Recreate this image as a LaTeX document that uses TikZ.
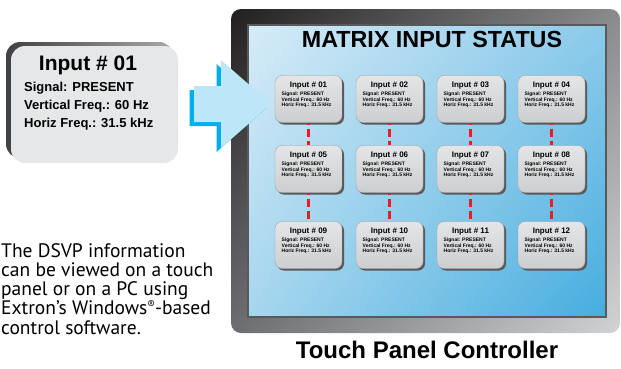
\documentclass[tikz,border=0pt]{standalone}
\usepackage{fontspec}
\setmainfont{Liberation Sans}
\newfontfamily\notefont{PT Sans}
\usetikzlibrary{calc,shadows,shadings}

\definecolor{framedark}{HTML}{231F20}
\definecolor{frameTR}{HTML}{8A8B8E}
\definecolor{frameBL}{HTML}{6D6E71}
\definecolor{frameBR}{HTML}{D1D3D4}
\definecolor{scrUL}{HTML}{D6EBF7}
\definecolor{scrUR}{HTML}{8CCAEA}
\definecolor{scrLL}{HTML}{A6D6EE}
\definecolor{scrLR}{HTML}{45ADDF}
\definecolor{scredge}{HTML}{58595B}
\definecolor{arrowlight}{HTML}{BDE6F9}
\definecolor{arrowcyan}{HTML}{00AEEF}
\definecolor{linkred}{HTML}{ED1C24}
\definecolor{cardgray}{HTML}{E6E7E8}
\definecolor{cardtop}{HTML}{E4E5E6}
\definecolor{cardbot}{HTML}{CDCED0}
\definecolor{cardline}{HTML}{9D9FA2}
\definecolor{cardshade}{HTML}{58595B}
\definecolor{bigshadeL}{HTML}{414042}
\definecolor{bigshadeR}{HTML}{A7A9AC}

\tikzset{
  card/.style={rounded corners=7pt, minimum width=67pt, minimum height=47pt,
    inner sep=0pt, draw=cardline, line width=0.4pt,
    top color=cardtop, bottom color=cardbot,
    drop shadow={shadow xshift=2pt, shadow yshift=-2pt, opacity=1, fill=cardshade}},
  cardtitle/.style={anchor=base, inner sep=0pt, font=\bfseries\fontsize{8}{9}\selectfont},
  % multi-line nodes: the base anchor sits on the last line
  cardlines/.style={anchor=base west, inner sep=0pt, align=left,
    font=\bfseries\fontsize{5}{5.7}\selectfont},
  link/.style={linkred, line width=3pt, dash pattern=on 8pt off 4pt, dash phase=6pt},
  heading/.style={anchor=base, inner sep=0pt, font=\bfseries\fontsize{23.3}{24}\selectfont},
}

\begin{document}
\begin{tikzpicture}[x=1pt, y=-1pt]
\useasboundingbox (0,0) rectangle (621,368);

% touch panel frame and screen
\shade[rounded corners=10pt, upper left=framedark, upper right=frameTR,
       lower left=frameBL, lower right=frameBR] (231,9) rectangle (620,333);
\shade[upper left=scrUL, upper right=scrUR, lower left=scrLL, lower right=scrLR]
       (248,25) rectangle (606,317);
\draw[scredge, line width=1.2pt] (248,25) rectangle (606,317);

\node[heading] (title) at (432,47) {MATRIX INPUT STATUS};
\node[heading, font=\bfseries\fontsize{24}{26}\selectfont] (caption) at (427,358) {Touch Panel Controller};

% pointer arrow with its cyan offset edge
\fill[arrowcyan, shift={(-4.5,4)}]
  (194,86) -- (221,86) -- (221,60) -- (271,104) -- (221,148) -- (221,122) -- (194,122) -- cycle;
\fill[arrowlight]
  (194,86) -- (221,86) -- (221,60) -- (271,104) -- (221,148) -- (221,122) -- (194,122) -- cycle;

% enlarged input card on the left
\shade[rounded corners=14pt, left color=bigshadeL, right color=bigshadeR] (6,42) rectangle (173,158);
\fill[cardgray, rounded corners=14pt] (11,46) rectangle (178,163);
\node[anchor=base, inner sep=0pt, font=\bfseries\fontsize{21}{22}\selectfont] (bigtitle) at (88,70) {Input \# 01};
\node[anchor=base west, inner sep=0pt, align=left, font=\bfseries\fontsize{13}{17.8}\selectfont]
  (biglines) at (24,127.3) {Signal: PRESENT\\Vertical Freq.: 60 Hz\\Horiz Freq.: 31.5 kHz};

% status cards on the screen
\foreach \n/\x/\y in {01/308.5/99, 02/389.5/99, 03/470.5/99, 04/551.5/99,
                      05/308.5/169, 06/389.5/169, 07/470.5/169, 08/551.5/169,
                      09/308.5/245, 10/389.5/245, 11/470.5/245, 12/551.5/245}{
  \node[card] (b\n) at (\x,\y) {};
  \node[cardtitle] (b\n t) at ($(b\n.north)+(0,11.7)$) {Input \# \n};
  \node[cardlines] (b\n s) at ($(b\n.north west)+(6.7,31.4)$)
    {Signal: PRESENT\\Vertical Freq.: 60 Hz\\Horiz Freq.: 31.5 kHz};
}
\foreach \a/\b in {01/05, 02/06, 03/07, 04/08, 05/09, 06/10, 07/11, 08/12}
  \draw[link] (b\a.south) -- (b\b.north);

% explanatory note
\node[anchor=base west, inner sep=0pt, align=left,
      font=\notefont\fontsize{19.5}{19.2}\selectfont] (note) at (1,334)
  {The DSVP information\\can be viewed on a touch\\panel or on a PC using\\
   Extron’s Windows{\fontsize{11}{11}\selectfont\raisebox{6pt}{®}}-based\\control software.};
\end{tikzpicture}
\end{document}
